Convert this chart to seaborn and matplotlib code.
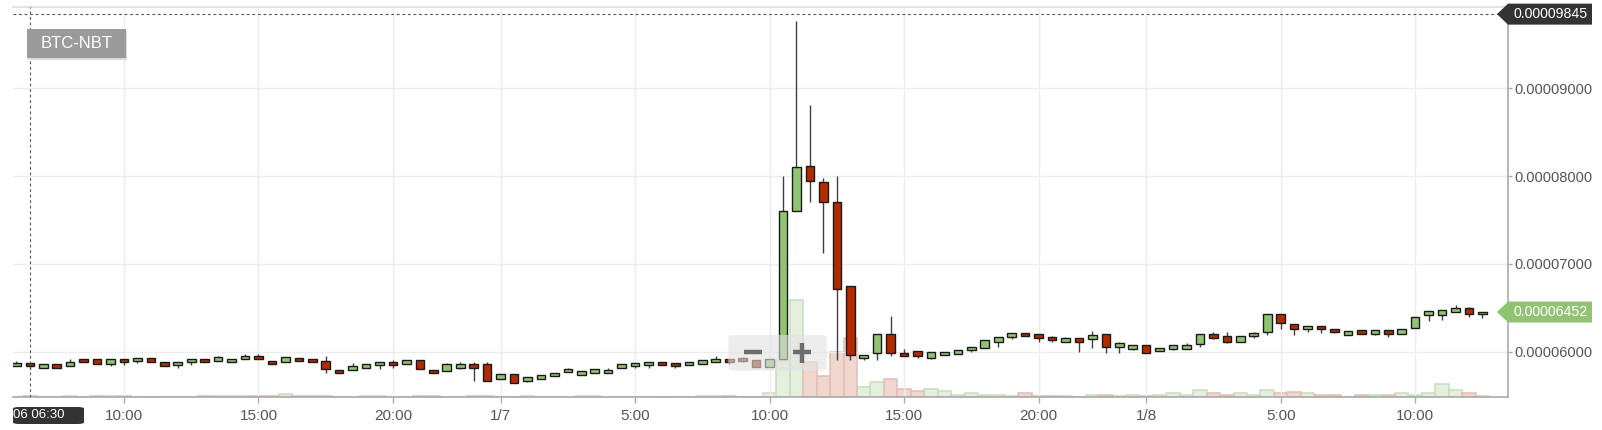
import numpy as np
import pandas as pd
import matplotlib
matplotlib.use("Agg")
import matplotlib.pyplot as plt
import seaborn as sns
from matplotlib.patches import FancyBboxPatch, Polygon
from matplotlib.lines import Line2D
from matplotlib.ticker import FixedLocator, FuncFormatter
from matplotlib.colors import to_rgba

# prices in units of 1e-5 BTC, 30 min candles starting 1/6 06:00
opens = [5.84, 5.875, 5.82, 5.856, 5.84, 5.913, 5.917, 5.863, 5.913, 5.897,
         5.93, 5.883, 5.85, 5.88, 5.913, 5.897, 5.88, 5.913, 5.951, 5.897,
         5.879, 5.93, 5.913, 5.897, 5.788, 5.792, 5.818, 5.849, 5.886, 5.863,
         5.902, 5.792, 5.784, 5.811, 5.856, 5.856, 5.689, 5.746, 5.666, 5.693,
         5.723, 5.769, 5.738, 5.754, 5.754, 5.818, 5.834, 5.849, 5.886, 5.871,
         5.849, 5.863, 5.879, 5.917, 5.932, 5.905, 5.822, 5.913, 7.606, 8.115,
         7.936, 7.70, 6.75, 5.93, 5.98, 6.198, 5.982, 6.008, 5.928, 5.962,
         5.977, 6.019, 6.042, 6.114, 6.167, 6.216, 6.2, 6.167, 6.11, 6.152,
         6.145, 6.2, 6.05, 6.034, 6.073, 6.005, 6.031, 6.034, 6.084, 6.2,
         6.179, 6.11, 6.179, 6.228, 6.429, 6.312, 6.255, 6.293, 6.259, 6.194,
         6.247, 6.205, 6.247, 6.205, 6.266, 6.414, 6.414, 6.456, 6.494, 6.429]
closes = [5.875, 5.84, 5.856, 5.82, 5.886, 5.88, 5.863, 5.917, 5.88, 5.93,
          5.88, 5.837, 5.883, 5.913, 5.88, 5.936, 5.917, 5.951, 5.913, 5.863,
          5.936, 5.893, 5.88, 5.803, 5.754, 5.837, 5.856, 5.886, 5.849, 5.902,
          5.803, 5.754, 5.86, 5.856, 5.818, 5.663, 5.746, 5.647, 5.715, 5.731,
          5.761, 5.806, 5.777, 5.806, 5.792, 5.856, 5.871, 5.886, 5.849, 5.834,
          5.886, 5.902, 5.917, 5.879, 5.894, 5.822, 5.913, 7.606, 8.107, 7.944,
          7.708, 6.71, 5.96, 5.96, 6.198, 5.99, 5.948, 5.948, 5.993, 6.0,
          6.016, 6.057, 6.137, 6.167, 6.216, 6.179, 6.16, 6.13, 6.152, 6.11,
          6.19, 6.054, 6.096, 6.076, 5.989, 6.046, 6.073, 6.076, 6.198, 6.16,
          6.11, 6.182, 6.216, 6.429, 6.323, 6.259, 6.293, 6.255, 6.221, 6.232,
          6.205, 6.247, 6.205, 6.262, 6.399, 6.463, 6.478, 6.494, 6.429, 6.452]
highs = [5.897, 5.875, 5.856, 5.856, 5.913, 5.913, 5.917, 5.917, 5.913, 5.93,
         5.93, 5.883, 5.883, 5.913, 5.913, 5.95, 5.917, 5.974, 5.974, 5.897,
         5.936, 5.93, 5.913, 5.95, 5.788, 5.868, 5.856, 5.886, 5.90, 5.902,
         5.902, 5.792, 5.875, 5.88, 5.88, 5.88, 5.746, 5.746, 5.715, 5.731,
         5.761, 5.82, 5.777, 5.806, 5.82, 5.856, 5.871, 5.886, 5.886, 5.871,
         5.886, 5.902, 5.951, 5.917, 5.94, 5.905, 5.913, 8.0, 9.77, 8.81,
         7.98, 8.0, 6.75, 5.96, 6.198, 6.41, 6.03, 6.008, 5.993, 6.0,
         6.016, 6.057, 6.137, 6.167, 6.216, 6.216, 6.2, 6.175, 6.17, 6.152,
         6.232, 6.2, 6.11, 6.076, 6.073, 6.046, 6.073, 6.103, 6.198, 6.22,
         6.22, 6.182, 6.23, 6.429, 6.429, 6.312, 6.293, 6.293, 6.259, 6.232,
         6.247, 6.247, 6.247, 6.262, 6.399, 6.463, 6.478, 6.528, 6.51, 6.452]
lows = [5.84, 5.80, 5.82, 5.82, 5.84, 5.88, 5.863, 5.837, 5.85, 5.87,
        5.88, 5.837, 5.81, 5.85, 5.88, 5.897, 5.88, 5.913, 5.913, 5.863,
        5.879, 5.893, 5.88, 5.76, 5.754, 5.792, 5.818, 5.80, 5.81, 5.863,
        5.803, 5.754, 5.784, 5.80, 5.67, 5.663, 5.689, 5.647, 5.65, 5.693,
        5.723, 5.769, 5.738, 5.754, 5.754, 5.818, 5.82, 5.81, 5.849, 5.82,
        5.849, 5.863, 5.879, 5.86, 5.88, 5.822, 5.822, 5.913, 7.606, 7.71,
        7.12, 5.91, 5.90, 5.91, 5.91, 5.95, 5.948, 5.93, 5.92, 5.962,
        5.977, 5.999, 6.042, 6.057, 6.15, 6.179, 6.107, 6.11, 6.11, 6.0,
        6.039, 5.989, 5.99, 6.02, 5.989, 6.005, 6.02, 6.034, 6.05, 6.145,
        6.10, 6.11, 6.16, 6.19, 6.255, 6.19, 6.22, 6.21, 6.21, 6.194,
        6.205, 6.19, 6.164, 6.205, 6.266, 6.346, 6.36, 6.456, 6.399, 6.384]
volumes = [0.3, 1.2, 0.3, 0.3, 1.2, 0.3, 1.2, 1.0, 1.0, 0.3,
           0.3, 0.3, 0.3, 0.3, 1.0, 1.2, 1.2, 1.0, 1.2, 1.0,
           3.0, 1.2, 1.0, 1.0, 0.3, 0.3, 1.3, 1.3, 0.3, 0.3,
           1.3, 1.3, 0.3, 0.3, 1.3, 1.3, 0.3, 0.3, 1.3, 0.3,
           0.3, 0.3, 1.0, 1.0, 0.3, 0.3, 0.3, 0.3, 0.3, 0.3,
           0.3, 1.3, 1.3, 1.3, 0.3, 0.3, 4.0, 36.6, 97.3, 35.0,
           21.3, 45.0, 59.0, 10.6, 15.0, 18.0, 8.3, 6.3, 8.3, 6.3,
           2.3, 4.0, 2.3, 2.0, 1.0, 4.0, 1.0, 1.0, 1.0, 0.5,
           2.0, 2.0, 1.0, 2.0, 1.0, 2.0, 4.0, 2.0, 7.3, 4.0,
           2.0, 4.0, 2.0, 7.3, 4.0, 5.3, 4.0, 2.0, 2.0, 0.5,
           2.0, 2.0, 2.0, 4.0, 2.0, 4.0, 13.3, 7.3, 4.0, 1.0]

first_hour = 6.0          # 1/6 06:00
step_hours = 0.5
tick_hours = [10, 15, 20, 24, 29, 34, 39, 44, 48, 53, 58]
tick_labels = ["10:00", "15:00", "20:00", "1/7", "5:00", "10:00",
               "15:00", "20:00", "1/8", "5:00", "10:00"]
price_ticks = [6, 7, 8, 9]
cursor_hour = 6.5
cursor_price = 9.845
last_price = 6.452
pair = "BTC-NBT"
cursor_label = "06 06:30"

UP, DOWN = "#90c472", "#b22a00"
VOL_UP, VOL_DOWN = "#e4efdc", "#f1d6cf"
VOL_UP_EDGE, VOL_DOWN_EDGE = "#cadcbf", "#e0bfb6"

W, H = 1602, 430

sns.set_theme(style="white")
plt.rcParams["font.family"] = ["Liberation Sans", "DejaVu Sans"]

df = pd.DataFrame({"open": opens, "close": closes, "high": highs,
                   "low": lows, "vol": volumes})
df["t"] = first_hour + step_hours * np.arange(len(df))
df["dir"] = np.where(df["close"] >= df["open"], "up", "down")


def fx(x):
    return x / W


def fy(y):
    return 1 - y / H


fig = plt.figure(figsize=(W / 100, H / 100), dpi=100)
fig.patch.set_facecolor("white")
ax = fig.add_axes([fx(13), fy(397.3), (1507.7 - 13) / W, (397.3 - 6.7) / H])
ax2 = ax.twinx()

# volume bars
sns.barplot(data=df, x="t", y="vol", hue="dir",
            palette={"up": VOL_UP, "down": VOL_DOWN}, native_scale=True,
            width=1.0, errorbar=None, legend=False, saturation=1,
            linewidth=1.1, ax=ax2)
for p in ax2.patches:
    fc = p.get_facecolor()
    if np.allclose(fc, to_rgba(VOL_UP)):
        p.set_edgecolor(VOL_UP_EDGE)
    else:
        p.set_edgecolor(VOL_DOWN_EDGE)
ax2.set_ylim(0, 390.6)
ax2.set_yticks([])
ax2.set_xlabel("")
ax2.set_ylabel("")
for s in ax2.spines.values():
    s.set_visible(False)

ax.set_zorder(ax2.get_zorder() + 1)
ax.patch.set_visible(False)

# candles
colors = np.where(df["dir"] == "up", UP, DOWN)
ax.vlines(df["t"], df["low"], df["high"], color="#404040", lw=1.0, zorder=2)
ax.bar(df["t"], (df["close"] - df["open"]).abs(),
       bottom=df[["open", "close"]].min(axis=1), width=0.32,
       color=colors, edgecolor="#1a1a1a", linewidth=1.0, zorder=3)

ax.set_xlim(5.874, 61.44)
ax.set_ylim(5.4806, 9.9296)

ax.yaxis.tick_right()
ax.yaxis.set_major_locator(FixedLocator(price_ticks))
ax.yaxis.set_major_formatter(FuncFormatter(lambda v, _: f"{v * 1e-5:.8f}"))
ax.xaxis.set_major_locator(FixedLocator(tick_hours))
ax.set_xticklabels(tick_labels)
ax.tick_params(axis="x", length=4, width=1, color="#aaaaaa", pad=4.5,
               labelsize=11, labelcolor="#555555", bottom=True)
ax.tick_params(axis="y", length=3, width=1, color="#aaaaaa", pad=1.5,
               labelsize=10.5, labelcolor="#555555", right=True, left=False)
ax.grid(True, color="#ededed", lw=1)
ax.set_axisbelow(True)

ax.spines["left"].set_visible(False)
ax.spines["top"].set_color("#dddddd")
ax.spines["right"].set_color("#aaaaaa")
ax.spines["bottom"].set_color("#aaaaaa")
for s in ["top", "right", "bottom"]:
    ax.spines[s].set_linewidth(1.2)

# crosshair
ax.axvline(cursor_hour, color="#555555", lw=0.8, ls=(0, (2.5, 2.5)), zorder=4)
ax.axhline(cursor_price, color="#555555", lw=0.8, ls=(0, (2.5, 2.5)), zorder=4)


def price_tag(value, color):
    disp = ax.transData.transform((ax.get_xlim()[1], value))
    yf = fig.transFigure.inverted().transform(disp)[1]
    h = 10.5 / H
    poly = Polygon([(fx(1497), yf), (fx(1508), yf + h), (fx(1592), yf + h),
                    (fx(1592), yf - h), (fx(1508), yf - h)], closed=True,
                   transform=fig.transFigure, fc=color, ec="none", zorder=10)
    fig.add_artist(poly)
    fig.text(fx(1514), yf, f"{value * 1e-5:.8f}", color="white",
             fontsize=10.2, va="center", ha="left", zorder=11)


price_tag(cursor_price, "#333333")
price_tag(last_price, UP)

# time tag at the cursor
fig.add_artist(FancyBboxPatch((fx(13), fy(424)), fx(84) - fx(13), (424 - 407) / H,
                              boxstyle="round,pad=0,rounding_size=0.004",
                              transform=fig.transFigure, fc="#333333",
                              ec="none", zorder=10))
fig.text(fx(13), fy(415.5), cursor_label, color="white", fontsize=9.5,
         va="center", ha="left", zorder=11)

# pair label
fig.add_artist(FancyBboxPatch((fx(28.5), fy(59.8)), (126 - 27.3) / W, (58.3 - 29.3) / H,
                              boxstyle="square,pad=0", transform=fig.transFigure,
                              fc="#dcdcdc", ec="none", zorder=9))
fig.add_artist(FancyBboxPatch((fx(27.3), fy(58.3)), (126 - 27.3) / W, (58.3 - 29.3) / H,
                              boxstyle="square,pad=0", transform=fig.transFigure,
                              fc="#9b9b9b", ec="none", zorder=10))
fig.text(fx(76.7), fy(44), pair, color="white", fontsize=12,
         va="center", ha="center", zorder=11)

# zoom control
fig.add_artist(FancyBboxPatch((fx(728.3), fy(370.7)), (826.7 - 728.3) / W, (370.7 - 335) / H,
                              boxstyle="round,pad=0,rounding_size=0.005",
                              transform=fig.transFigure, fc="#e2e2e2",
                              alpha=0.6, ec="none", zorder=10))
for (x0, y0, x1, y1) in [(744, 352.3, 762, 352.3), (793, 352.3, 811, 352.3),
                         (802, 343.3, 802, 362.7)]:
    fig.add_artist(Line2D([fx(x0), fx(x1)], [fy(y0), fy(y1)],
                          transform=fig.transFigure, color="#6c6c6c",
                          lw=3.2, solid_capstyle="butt", zorder=11))

fig.savefig("out.png", dpi=100, facecolor="white")
